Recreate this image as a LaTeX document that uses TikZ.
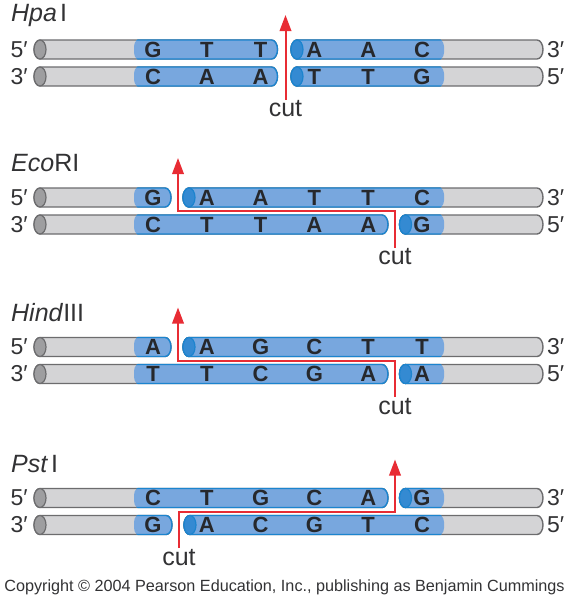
\documentclass[tikz,border=0pt]{standalone}
\usepackage{fontspec}
\setmainfont{Liberation Sans}
\usepackage{tikz}
\usetikzlibrary{arrows.meta}
\tikzset{
    enzlabel/.style={anchor=west, inner sep=0pt, text=inkgray, font=\fontsize{25}{28}\selectfont},
    endlabel/.style={inner sep=0pt, text=inkgray, font=\fontsize{23}{26}\selectfont},
    baselabel/.style={inner sep=0pt, text=baseink, font=\fontsize{22}{26}\selectfont\bfseries},
    cutlabel/.style={inner sep=1pt, text=inkgray, font=\fontsize{25}{28}\selectfont},
    creditlabel/.style={inner sep=0pt, text=inkgray, font=\fontsize{16.2}{19}\selectfont},
    cutarrow/.style={-{Triangle[length=16pt, width=11.5pt]}, cutred, line width=2pt},
    graybody/.style={fill=strandgray, draw=rimgray, line width=1.4pt},
    grayface/.style={fill=facegray, draw=rimgray, line width=1.2pt},
    bluebody/.style={fill=strandblue, draw=rimblue, line width=1.4pt},
    blueface/.style={fill=faceblue, draw=rimblue, line width=1.2pt}
}
\definecolor{strandgray}{RGB}{212,212,214}
\definecolor{rimgray}{RGB}{108,108,110}
\definecolor{facegray}{RGB}{158,158,160}
\definecolor{strandblue}{RGB}{120,167,222}
\definecolor{rimblue}{RGB}{28,132,206}
\definecolor{faceblue}{RGB}{52,138,210}
\definecolor{cutred}{RGB}{232,44,52}
\definecolor{inkgray}{RGB}{50,50,52}
\definecolor{baseink}{RGB}{38,40,44}
\newcommand{\strandoutline}[3]{(#2,#1-9.5) -- (#3,#1-9.5) arc[start angle=90, end angle=-90, x radius=6pt, y radius=9.5pt] -- (#2,#1+9.5) arc[start angle=-90, end angle=-270, x radius=6pt, y radius=9.5pt] -- cycle}
\newcommand{\dnapiece}[3]{%
    \path[graybody] \strandoutline{#1}{#2}{#3};
    \path[grayface] (#2,#1) ellipse[x radius=6pt, y radius=9.5pt];
    \begin{scope}
        \clip[rounded corners=9pt] (134,#1-12) rectangle (444,#1+12);
        \path[bluebody] \strandoutline{#1}{#2}{#3};
        \path[blueface] (#2,#1) ellipse[x radius=6pt, y radius=9.5pt];
    \end{scope}}

\begin{document}
\begin{tikzpicture}[x=1pt, y=-1pt]
\useasboundingbox (0,0) rectangle (569,600);

\node[enzlabel] (hpa) at (11,15.5) {\textit{Hpa}\hspace{3pt}I};
\dnapiece{49.5}{40}{271.5} \dnapiece{49.5}{297}{537}
\dnapiece{76.5}{40}{271.5} \dnapiece{76.5}{297}{537}
\foreach \b [count=\i] in {G,T,T,A,A,C}
    \node[baselabel] (hpa-t\i) at ({153+53.8*(\i-1)},49.5) {\b};
\foreach \b [count=\i] in {C,A,A,T,T,G}
    \node[baselabel] (hpa-b\i) at ({153+53.8*(\i-1)},76.5) {\b};
\node[endlabel, anchor=east] (hpa-l5) at (28,49.5) {5′};
\node[endlabel, anchor=east] (hpa-l3) at (28,76.5) {3′};
\node[endlabel, anchor=west] (hpa-r3) at (547,49.5) {3′};
\node[endlabel, anchor=west] (hpa-r5) at (547,76.5) {5′};
\node[cutlabel] (hpa-cut) at (285.5,109) {cut};
\coordinate (hpa-tip) at (285.5,15);
\draw[cutarrow] (hpa-cut.north) -- (hpa-tip);

\node[enzlabel] (eco) at (11,163.5) {\textit{Eco}RI};
\dnapiece{197.5}{40}{165} \dnapiece{197.5}{189}{537}
\dnapiece{224.5}{40}{382} \dnapiece{224.5}{405.5}{537}
\foreach \b [count=\i] in {G,A,A,T,T,C}
    \node[baselabel] (eco-t\i) at ({153+53.8*(\i-1)},197.5) {\b};
\foreach \b [count=\i] in {C,T,T,A,A,G}
    \node[baselabel] (eco-b\i) at ({153+53.8*(\i-1)},224.5) {\b};
\node[endlabel, anchor=east] (eco-l5) at (28,197.5) {5′};
\node[endlabel, anchor=east] (eco-l3) at (28,224.5) {3′};
\node[endlabel, anchor=west] (eco-r3) at (547,197.5) {3′};
\node[endlabel, anchor=west] (eco-r5) at (547,224.5) {5′};
\node[cutlabel] (eco-cut) at (395,257) {cut};
\coordinate (eco-bend) at (178,211);
\coordinate (eco-tip) at (178,158);
\draw[cutarrow] (eco-cut.north) |- (eco-bend) -- (eco-tip);

\node[enzlabel] (hind) at (11,313) {\textit{Hind}III};
\dnapiece{347}{40}{165} \dnapiece{347}{189}{537}
\dnapiece{374}{40}{382} \dnapiece{374}{405.5}{537}
\foreach \b [count=\i] in {A,A,G,C,T,T}
    \node[baselabel] (hind-t\i) at ({153+53.8*(\i-1)},347) {\b};
\foreach \b [count=\i] in {T,T,C,G,A,A}
    \node[baselabel] (hind-b\i) at ({153+53.8*(\i-1)},374) {\b};
\node[endlabel, anchor=east] (hind-l5) at (28,347) {5′};
\node[endlabel, anchor=east] (hind-l3) at (28,374) {3′};
\node[endlabel, anchor=west] (hind-r3) at (547,347) {3′};
\node[endlabel, anchor=west] (hind-r5) at (547,374) {5′};
\node[cutlabel] (hind-cut) at (395,406.5) {cut};
\coordinate (hind-bend) at (178,360.5);
\coordinate (hind-tip) at (178,307.5);
\draw[cutarrow] (hind-cut.north) |- (hind-bend) -- (hind-tip);

\node[enzlabel] (pst) at (11,464) {\textit{Pst}\hspace{3pt}I};
\dnapiece{498}{40}{382} \dnapiece{498}{405.5}{537}
\dnapiece{525}{40}{166} \dnapiece{525}{190}{537}
\foreach \b [count=\i] in {C,T,G,C,A,G}
    \node[baselabel] (pst-t\i) at ({153+53.8*(\i-1)},498) {\b};
\foreach \b [count=\i] in {G,A,C,G,T,C}
    \node[baselabel] (pst-b\i) at ({153+53.8*(\i-1)},525) {\b};
\node[endlabel, anchor=east] (pst-l5) at (28,498) {5′};
\node[endlabel, anchor=east] (pst-l3) at (28,525) {3′};
\node[endlabel, anchor=west] (pst-r3) at (547,498) {3′};
\node[endlabel, anchor=west] (pst-r5) at (547,525) {5′};
\node[cutlabel] (pst-cut) at (179,557.5) {cut};
\coordinate (pst-bend) at (395,511.5);
\coordinate (pst-tip) at (395,459.5);
\draw[cutarrow] (pst-cut.north) |- (pst-bend) -- (pst-tip);

\node[creditlabel] (credit) at (284.5,587) {Copyright © 2004 Pearson Education, Inc., publishing as Benjamin Cummings};
\end{tikzpicture}
\end{document}
